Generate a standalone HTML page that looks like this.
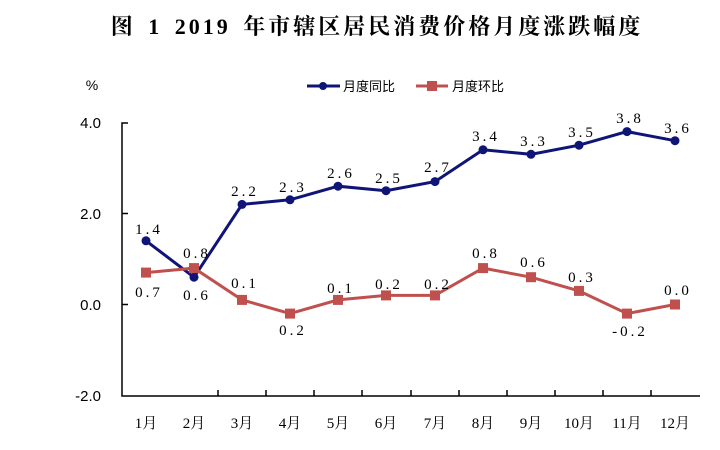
<!DOCTYPE html>
<html><head><meta charset="utf-8"><style>body{margin:0;background:#fff}svg{display:block}</style></head><body>
<svg width="720" height="450" xmlns="http://www.w3.org/2000/svg">
<text x="377" y="34" text-anchor="middle" font-family="'Liberation Serif','Noto Serif CJK SC',serif" font-size="22" font-weight="bold" letter-spacing="3" word-spacing="4" fill="#000">图 1 2019 年市辖区居民消费价格月度涨跌幅度</text>
<text x="92" y="90" text-anchor="middle" font-family="'Liberation Sans',sans-serif" font-size="14">%</text>
<g font-family="'Liberation Sans',sans-serif" font-size="15" text-anchor="end" fill="#000">
<text x="101" y="128">4.0</text><text x="101" y="219">2.0</text><text x="101" y="310">0.0</text><text x="101" y="401">-2.0</text>
</g>
<g stroke="#000" stroke-width="1.5" fill="none">
<path d="M128 123H122V396H700"/>
<path d="M122 213.5H128M122 304.5H128"/>
<path d="M218 396v-6M266 396v-6M314 396v-6M362 396v-6M411 396v-6M459 396v-6M507 396v-6M555 396v-6M603 396v-6M651 396v-6"/>
</g>
<g font-family="'Liberation Serif','Noto Serif CJK SC',serif" font-size="15" text-anchor="middle" fill="#000">
<text x="146" y="428">1月</text><text x="194" y="428">2月</text><text x="242" y="428">3月</text><text x="290" y="428">4月</text><text x="338" y="428">5月</text><text x="386" y="428">6月</text><text x="435" y="428">7月</text><text x="483" y="428">8月</text><text x="531" y="428">9月</text><text x="579" y="428">10月</text><text x="627" y="428">11月</text><text x="675" y="428">12月</text>
</g>
<path d="M307 86H340" stroke="#0f1577" stroke-width="3"/><circle cx="323" cy="86" r="4" fill="#0f1577"/>
<text x="343" y="91" font-family="'Noto Sans CJK SC',sans-serif" font-size="13">月度同比</text>
<path d="M416 86H448" stroke="#c0504d" stroke-width="3"/><rect x="427" y="81" width="10" height="10" fill="#c0504d"/>
<text x="452" y="91" font-family="'Noto Sans CJK SC',sans-serif" font-size="13">月度环比</text>
<polyline fill="none" stroke="#0f1577" stroke-width="3" points="146,240.8 194,277.2 242,204.4 290,199.8 338,186.2 386,190.7 435,181.6 483,149.8 531,154.3 579,145.2 627,131.6 675,140.7"/>
<g fill="#0f1577">
<circle cx="146" cy="240.8" r="4.5"/><circle cx="194" cy="277.2" r="4.5"/><circle cx="242" cy="204.4" r="4.5"/><circle cx="290" cy="199.8" r="4.5"/><circle cx="338" cy="186.2" r="4.5"/><circle cx="386" cy="190.7" r="4.5"/><circle cx="435" cy="181.6" r="4.5"/><circle cx="483" cy="149.8" r="4.5"/><circle cx="531" cy="154.3" r="4.5"/><circle cx="579" cy="145.2" r="4.5"/><circle cx="627" cy="131.6" r="4.5"/><circle cx="675" cy="140.7" r="4.5"/>
</g>
<polyline fill="none" stroke="#c0504d" stroke-width="3" points="146,272.6 194,268.1 242,299.9 290,313.6 338,299.9 386,295.4 435,295.4 483,268.1 531,277.2 579,290.9 627,313.6 675,304.5"/>
<g fill="#c0504d">
<rect x="141" y="267.6" width="10" height="10"/><rect x="189" y="263.1" width="10" height="10"/><rect x="237" y="294.9" width="10" height="10"/><rect x="285" y="308.6" width="10" height="10"/><rect x="333" y="294.9" width="10" height="10"/><rect x="381" y="290.4" width="10" height="10"/><rect x="430" y="290.4" width="10" height="10"/><rect x="478" y="263.1" width="10" height="10"/><rect x="526" y="272.2" width="10" height="10"/><rect x="574" y="285.9" width="10" height="10"/><rect x="622" y="308.6" width="10" height="10"/><rect x="670" y="299.5" width="10" height="10"/>
</g>
<g font-family="'Liberation Serif',serif" font-size="15" text-anchor="middle" fill="#000" letter-spacing="3">
<text x="149" y="234">1.4</text><text x="197" y="258">0.8</text><text x="245" y="196">2.2</text><text x="293" y="192">2.3</text><text x="341" y="178">2.6</text><text x="389" y="183">2.5</text><text x="438" y="172">2.7</text><text x="486" y="141">3.4</text><text x="534" y="146">3.3</text><text x="582" y="137">3.5</text><text x="630" y="123">3.8</text><text x="678" y="133">3.6</text>
<text x="149" y="297">0.7</text><text x="197" y="300">0.6</text><text x="245" y="288">0.1</text><text x="293" y="335">0.2</text><text x="341" y="293">0.1</text><text x="389" y="289">0.2</text><text x="438" y="289">0.2</text><text x="486" y="258">0.8</text><text x="534" y="267">0.6</text><text x="582" y="282">0.3</text><text x="630" y="336">-0.2</text><text x="678" y="295">0.0</text>
</g>
</svg>
</body></html>
